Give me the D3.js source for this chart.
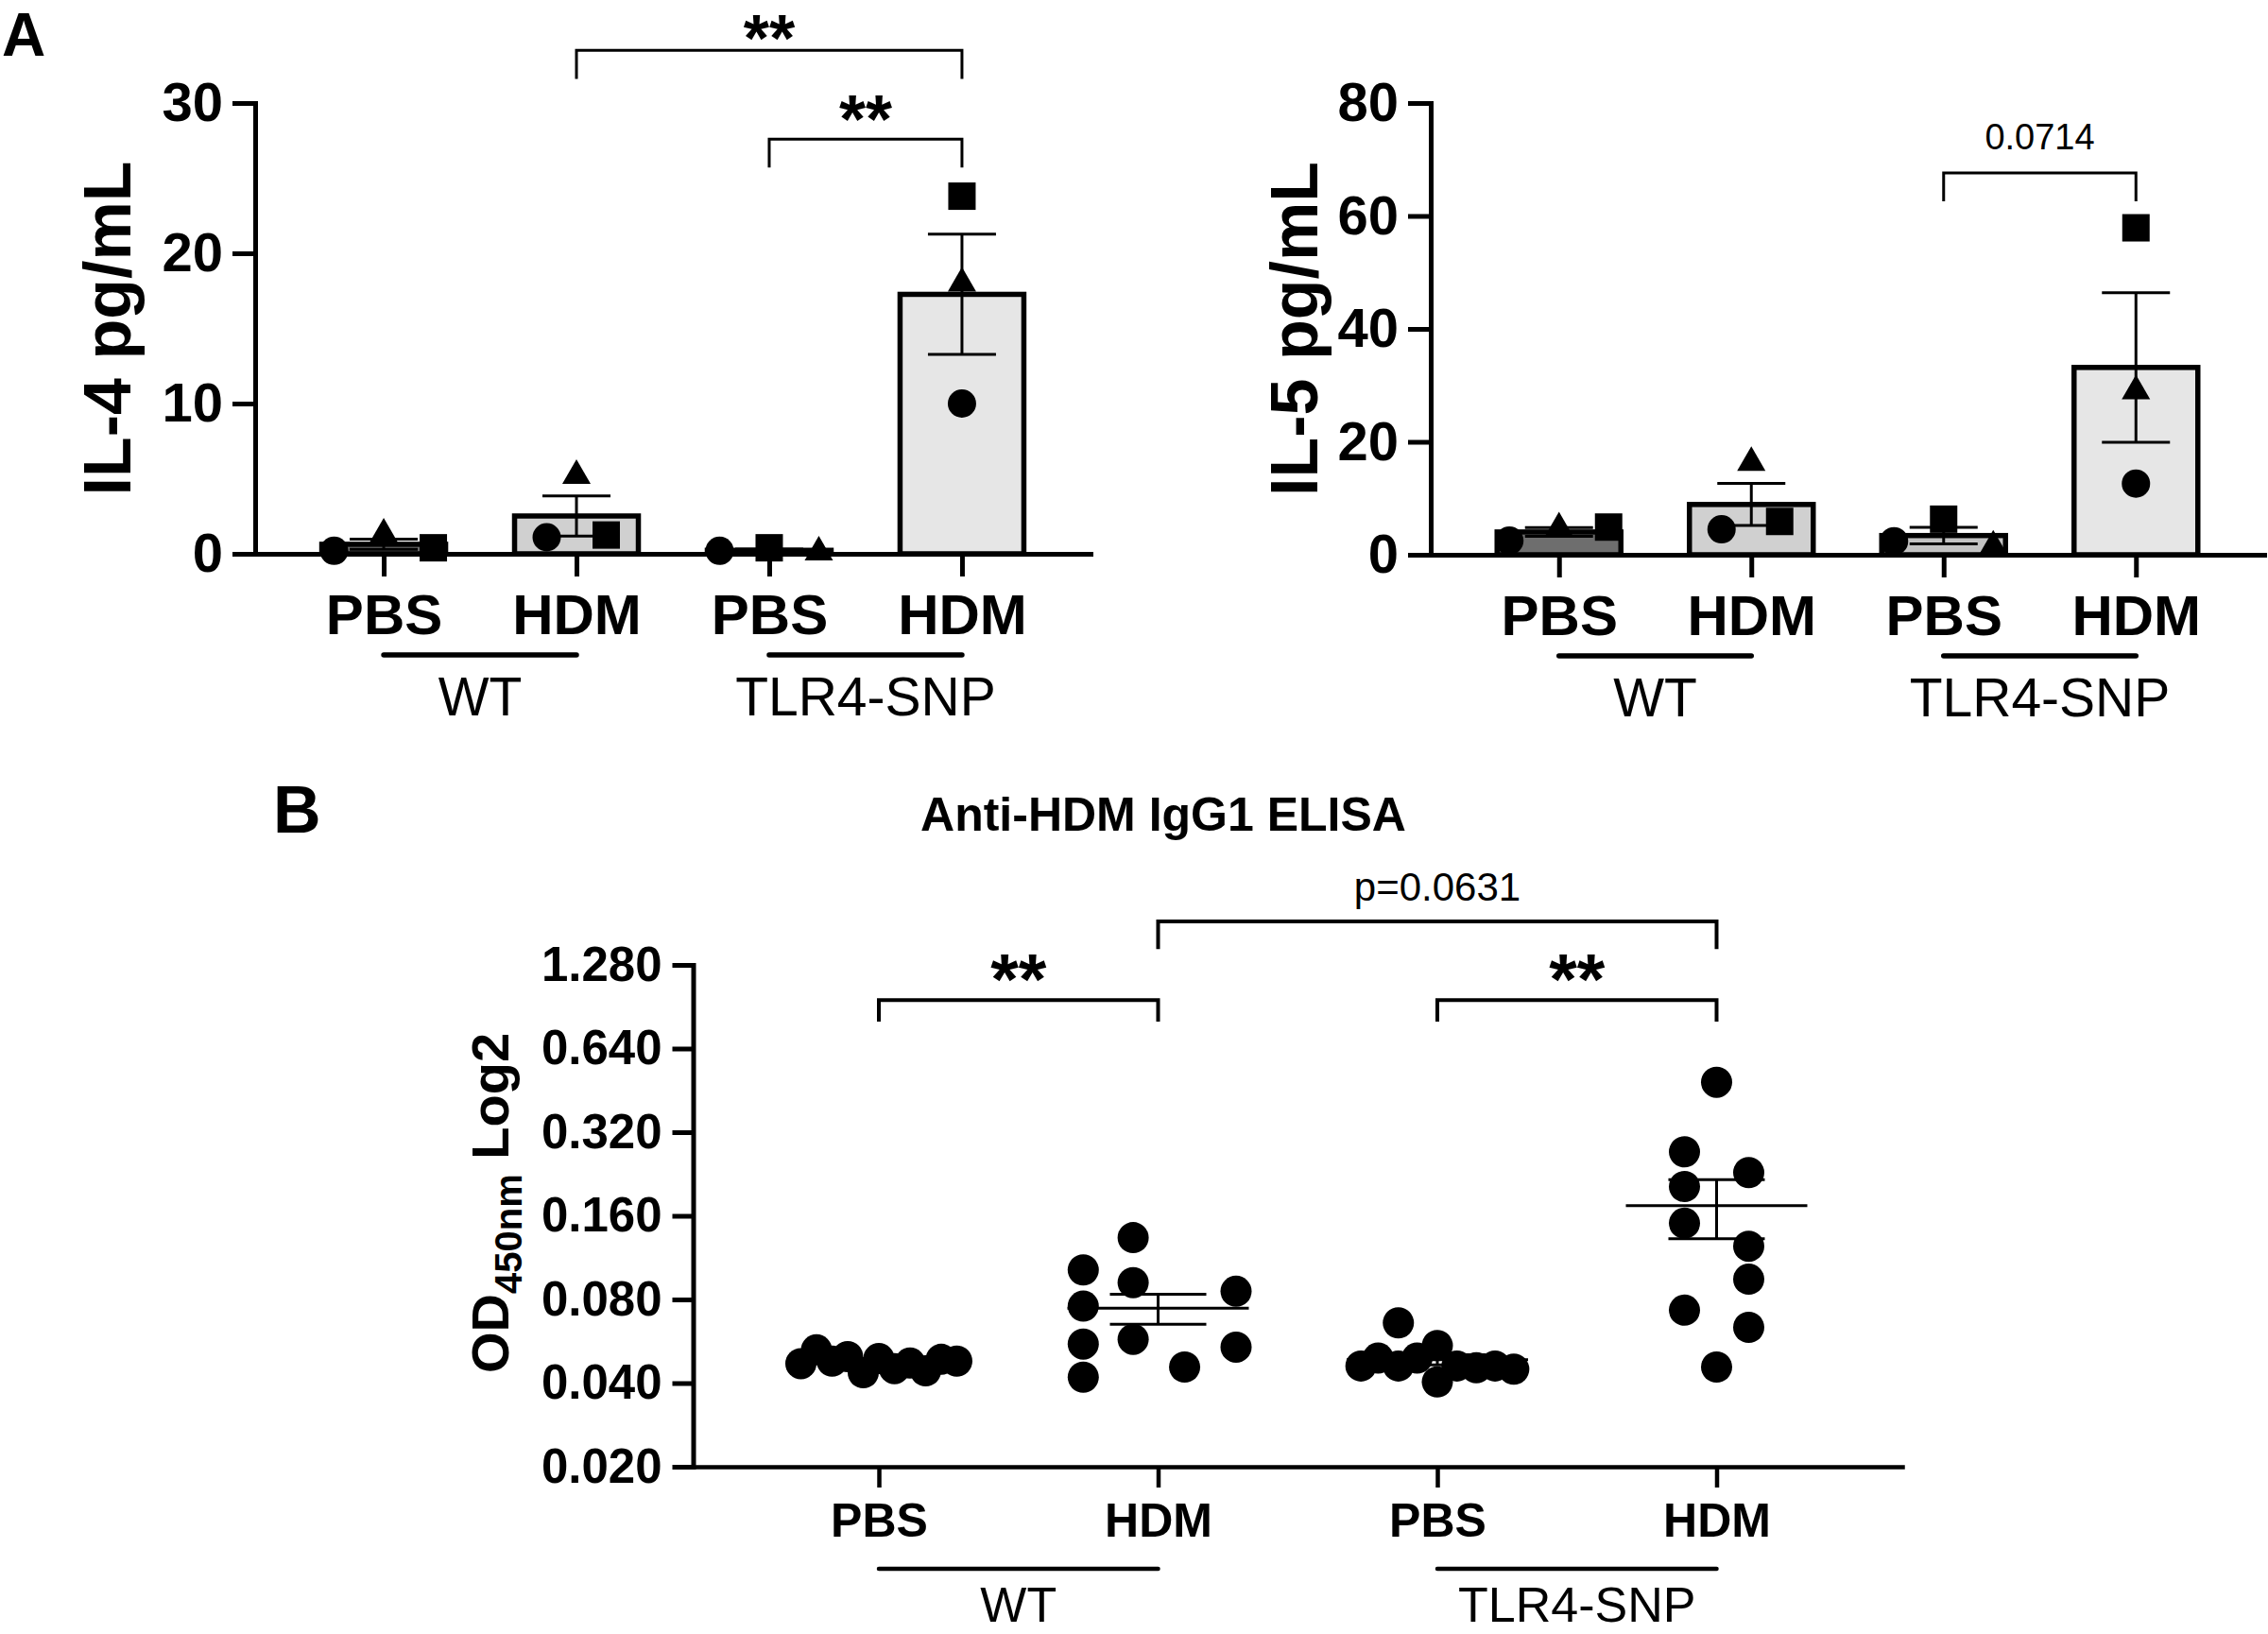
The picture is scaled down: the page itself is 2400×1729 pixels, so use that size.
<!DOCTYPE html>
<html>
<head>
<meta charset="utf-8">
<script src="https://cdn.jsdelivr.net/npm/d3@7"></script>
<style>
  body { margin: 0; background: #fff; }
  svg { display: block; font-family: "Liberation Sans", Arial, sans-serif; }
</style>
</head>
<body>
<svg width="2400" height="1729"></svg>
<script>
// ---- data ----
var groups = ["PBS", "HDM", "PBS", "HDM"];
var strains = ["WT", "TLR4-SNP"];
var shapes = ["circle", "triangle", "square"];   // one symbol per mouse

var il4Ticks = [0, 10, 20, 30];
// per group: [circle, triangle, square]
var il4Values = [[0.2, 1.3, 0.4], [1.1, 5.2, 1.25], [0.2, 0.1, 0.4], [10.0, 18.0, 23.8]];
var il4Spread = [[-1.75, 0, 1.75], [-1.05, 0, 1.05], [-1.75, 1.75, 0], [0, 0, 0]];

var il5Ticks = [0, 20, 40, 60, 80];
var il5Values = [[2.5, 4.7, 4.9], [4.5, 16.3, 5.9], [2.4, 1.5, 6.3], [12.6, 29.0, 57.9]];
var il5Spread = [[-1.75, 0, 1.75], [-1.05, 0, 1.0], [-1.75, 1.75, 0], [0, 0, 0]];

var elisaTicks = [0.02, 0.04, 0.08, 0.16, 0.32, 0.64, 1.28];
var elisaWtPbs = [0.047, 0.0527, 0.048, 0.0498, 0.0436, 0.049, 0.0451, 0.0472, 0.0443, 0.0487, 0.048];
var elisaWtPbsSpread = [-2.5, -2, -1.5, -1, -0.5, 0, 0.5, 1, 1.5, 2, 2.5];
var elisaWtHdm = [0.1022, 0.0757, 0.0553, 0.042, 0.1335, 0.092, 0.0575, 0.0457, 0.0856, 0.0539];
var elisaWtHdmSpread = [-2.4, -2.4, -2.4, -2.4, -0.8, -0.8, -0.8, 0.85, 2.5, 2.5];
var elisaSnpPbs = [0.0461, 0.0492, 0.0659, 0.0461, 0.0492, 0.0546, 0.0404, 0.0461, 0.0454, 0.0461, 0.0449];
var elisaSnpPbsSpread = [-2.45, -1.9, -1.25, -1.25, -0.65, 0, 0, 0.63, 1.25, 1.85, 2.45];
var elisaSnpHdm = [0.484, 0.272, 0.229, 0.204, 0.1505, 0.1244, 0.0946, 0.0732, 0.0635, 0.0457];
var elisaSnpHdmSpread = [0, -1.03, 1.03, -1.03, -1.03, 1.03, 1.03, -1.03, 1.03, 0];

var barColors = ["#6e6e6e", "#d0d0d0", "#c2c2c2", "#e6e6e6"];

var svg = d3.select("svg");

function stat(v) {
  return { mean: d3.mean(v), sem: d3.deviation(v) / Math.sqrt(v.length) };
}

function styleAxis(ax, size, lw) {
  ax.select(".domain").attr("stroke-width", lw).attr("stroke-linecap", "square");
  ax.selectAll(".tick line").attr("stroke-width", lw);
  ax.selectAll(".tick text")
    .attr("font-family", '"Liberation Sans", Arial, sans-serif')
    .attr("font-size", size).attr("font-weight", "bold").attr("fill", "#000");
}

function symbolPath(shape) {
  if (shape === "circle") return d3.symbol(d3.symbolCircle, Math.PI * 15 * 15)();
  if (shape === "square") return d3.symbol(d3.symbolSquare, 29 * 29)();
  return d3.symbol(d3.symbolTriangle, 390)();
}

function bracket(g, xa, xb, yTop, yLeg, lw) {
  g.append("path")
    .attr("d", "M" + xa + "," + yLeg + "V" + yTop + "H" + xb + "V" + yLeg)
    .attr("fill", "none").attr("stroke", "#000").attr("stroke-width", lw);
}

function groupLines(g, x, yLine, yText, lw, fs) {
  strains.forEach(function (s, k) {
    var a = x(k * 2), b = x(k * 2 + 1);
    g.append("line").attr("x1", a).attr("x2", b).attr("y1", yLine).attr("y2", yLine)
      .attr("stroke", "#000").attr("stroke-width", lw).attr("stroke-linecap", "round");
    g.append("text").attr("x", (a + b) / 2).attr("y", yText)
      .attr("text-anchor", "middle").attr("font-size", fs).text(s);
  });
}

// ---- bar panels (IL-4, IL-5) ----
function barPanel(opt) {
  var g = svg.append("g");
  var x = d3.scalePoint().domain(d3.range(groups.length))
      .range([opt.left, opt.right]).padding(0.667);
  var y = d3.scaleLinear().domain([0, d3.max(opt.ticks)]).range([opt.bottom, opt.top]);
  var stats = opt.values.map(stat);
  var bw = 131;

  g.selectAll(".bar").data(stats).enter().append("rect")
    .attr("class", "bar")
    .attr("x", function (d, i) { return x(i) - bw / 2; })
    .attr("width", bw)
    .attr("y", function (d) { return y(d.mean); })
    .attr("height", function (d) { return y(0) - y(d.mean); })
    .attr("fill", function (d, i) { return barColors[i]; })
    .attr("stroke", "#000").attr("stroke-width", 5.5);

  var pts = [];
  opt.values.forEach(function (v, i) {
    v.forEach(function (val, j) {
      pts.push({ i: i, v: val, shape: shapes[j], dx: opt.spread[i][j] * 30 });
    });
  });
  g.selectAll(".pt").data(pts).enter().append("path")
    .attr("class", "pt")
    .attr("d", function (d) { return symbolPath(d.shape); })
    .attr("transform", function (d) { return "translate(" + (x(d.i) + d.dx) + "," + y(d.v) + ")"; })
    .attr("fill", "#000");

  var eb = g.selectAll(".err").data(stats).enter().append("g").attr("class", "err")
    .attr("stroke", "#000").attr("stroke-width", 3);
  eb.append("line")
    .attr("x1", function (d, i) { return x(i); }).attr("x2", function (d, i) { return x(i); })
    .attr("y1", function (d) { return y(d.mean - d.sem); })
    .attr("y2", function (d) { return y(d.mean + d.sem); });
  [-1, 1].forEach(function (s) {
    eb.append("line")
      .attr("x1", function (d, i) { return x(i) - 36; }).attr("x2", function (d, i) { return x(i) + 36; })
      .attr("y1", function (d) { return y(d.mean + s * d.sem); })
      .attr("y2", function (d) { return y(d.mean + s * d.sem); });
  });

  var ay = g.append("g").attr("transform", "translate(" + opt.left + ",0)")
    .call(d3.axisLeft(y).tickValues(opt.ticks).tickSize(24).tickSizeOuter(0).tickPadding(10));
  styleAxis(ay, 58, 5);
  var axx = g.append("g").attr("transform", "translate(0," + opt.bottom + ")")
    .call(d3.axisBottom(x).tickFormat(function (i) { return groups[i]; })
      .tickSize(24).tickSizeOuter(0).tickPadding(18));
  styleAxis(axx, 60, 5);

  groupLines(g, x, opt.bottom + 107, opt.bottom + 171, 5.5, 57);

  g.append("text")
    .attr("transform", "translate(" + opt.titleX + "," + (opt.bottom + opt.top) / 2 + ") rotate(-90)")
    .attr("text-anchor", "middle").attr("font-size", 70).attr("font-weight", "bold")
    .text(opt.title);

  opt.sig.forEach(function (s) {
    bracket(g, x(s.a), x(s.b), y(s.level), y(s.leg), 3);
    g.append("text").attr("x", (x(s.a) + x(s.b)) / 2).attr("y", y(s.level) + s.dy)
      .attr("text-anchor", "middle").attr("font-size", s.size)
      .attr("font-weight", s.bold ? "bold" : "normal").text(s.label);
  });
}

barPanel({
  left: 270, right: 1154, top: 109, bottom: 586,
  ticks: il4Ticks, values: il4Values, spread: il4Spread,
  title: "IL-4 pg/mL", titleX: 138,
  sig: [
    { a: 1, b: 3, level: 33.5, leg: 31.6, label: "**", size: 70, bold: true, dy: 12 },
    { a: 2, b: 3, level: 27.6, leg: 25.7, label: "**", size: 72, bold: true, dy: 4 }
  ]
});

barPanel({
  left: 1514, right: 2396, top: 109, bottom: 587,
  ticks: il5Ticks, values: il5Values, spread: il5Spread,
  title: "IL-5 pg/mL", titleX: 1394,
  sig: [
    { a: 2, b: 3, level: 67.6, leg: 62.6, label: "0.0714", size: 38, bold: false, dy: -25 }
  ]
});

// ---- ELISA scatter panel ----
(function () {
  var g = svg.append("g");
  var left = 733.5, right = 2013, top = 1021, bottom = 1552;
  var x = d3.scalePoint().domain(d3.range(groups.length)).range([left, right]).padding(0.665);
  var y = d3.scaleLog().base(2).domain([d3.min(elisaTicks), d3.max(elisaTicks)]).range([bottom, top]);
  var sets = [elisaWtPbs, elisaWtHdm, elisaSnpPbs, elisaSnpHdm];
  var spreads = [elisaWtPbsSpread, elisaWtHdmSpread, elisaSnpPbsSpread, elisaSnpHdmSpread];
  var r = 16.5;

  var pts = [];
  sets.forEach(function (v, i) {
    v.forEach(function (val, j) { pts.push({ i: i, v: val, dx: spreads[i][j] * 2 * r }); });
  });
  g.selectAll(".dot").data(pts).enter().append("circle")
    .attr("class", "dot")
    .attr("cx", function (d) { return x(d.i) + d.dx; })
    .attr("cy", function (d) { return y(d.v); })
    .attr("r", r).attr("fill", "#000");

  var stats = sets.map(stat);
  var eb = g.selectAll(".err").data(stats).enter().append("g").attr("class", "err")
    .attr("stroke", "#000").attr("stroke-width", 3);
  eb.append("line")
    .attr("x1", function (d, i) { return x(i) - 96; }).attr("x2", function (d, i) { return x(i) + 96; })
    .attr("y1", function (d) { return y(d.mean); }).attr("y2", function (d) { return y(d.mean); });
  eb.append("line")
    .attr("x1", function (d, i) { return x(i); }).attr("x2", function (d, i) { return x(i); })
    .attr("y1", function (d) { return y(d.mean - d.sem); })
    .attr("y2", function (d) { return y(d.mean + d.sem); });
  [-1, 1].forEach(function (s) {
    eb.append("line")
      .attr("x1", function (d, i) { return x(i) - 51; }).attr("x2", function (d, i) { return x(i) + 51; })
      .attr("y1", function (d) { return y(d.mean + s * d.sem); })
      .attr("y2", function (d) { return y(d.mean + s * d.sem); });
  });

  var ay = g.append("g").attr("transform", "translate(" + left + ",0)")
    .call(d3.axisLeft(y).tickValues(elisaTicks).tickFormat(d3.format(".3f"))
      .tickSize(22).tickSizeOuter(0).tickPadding(11));
  styleAxis(ay, 51, 5);
  var axx = g.append("g").attr("transform", "translate(0," + bottom + ")")
    .call(d3.axisBottom(x).tickFormat(function (i) { return groups[i]; })
      .tickSize(22).tickSizeOuter(0).tickPadding(16));
  styleAxis(axx, 50, 4.5);

  groupLines(g, x, 1660, 1716, 4.5, 52);

  var lab = g.append("text")
    .attr("transform", "translate(538," + 1273 + ") rotate(-90)")
    .attr("text-anchor", "middle").attr("font-size", 56).attr("font-weight", "bold");
  lab.append("tspan").text("OD");
  lab.append("tspan").attr("font-size", 40).attr("dy", 14).text("450nm");
  lab.append("tspan").attr("dy", -14).text(" Log2");

  g.append("text").attr("x", 1231).attr("y", 879).attr("text-anchor", "middle")
    .attr("font-size", 50).attr("font-weight", "bold").text("Anti-HDM IgG1 ELISA");

  var sig = [
    { a: 0, b: 1, level: 0.957, leg: 0.80, label: "**", size: 76, bold: true, dy: 4 },
    { a: 2, b: 3, level: 0.957, leg: 0.80, label: "**", size: 76, bold: true, dy: 4 },
    { a: 1, b: 3, level: 1.836, leg: 1.46, label: "p=0.0631", size: 42, bold: false, dy: -22 }
  ];
  sig.forEach(function (s) {
    bracket(g, x(s.a), x(s.b), y(s.level), y(s.leg), 4);
    g.append("text").attr("x", (x(s.a) + x(s.b)) / 2).attr("y", y(s.level) + s.dy)
      .attr("text-anchor", "middle").attr("font-size", s.size)
      .attr("font-weight", s.bold ? "bold" : "normal").text(s.label);
  });
})();

// panel letters
svg.append("text").attr("x", 2).attr("y", 59).attr("font-size", 64).attr("font-weight", "bold").text("A");
svg.append("text").attr("x", 289).attr("y", 881).attr("font-size", 70).attr("font-weight", "bold").text("B");
</script>
</body>
</html>
